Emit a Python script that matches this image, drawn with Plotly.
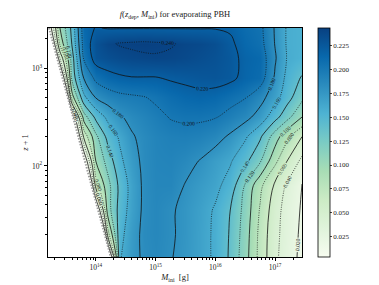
import math
import plotly.graph_objects as go

# ---- data ----
# grid coordinates (log10 of initial mass in g, log10 of z+1)
log_M = [13.2, 13.4, 13.6, 13.8, 14.0, 14.2, 14.4, 14.6, 14.8, 15.0,
         15.25, 15.5, 15.75, 16.0, 16.25, 16.5, 16.75, 17.0, 17.2, 17.45]
log_zp1 = [1.07, 1.3, 1.55, 1.8, 2.05, 2.3, 2.5, 2.7, 2.9, 3.1, 3.25, 3.41]

# f(z_dep, M_ini), rows from bottom (low z) to top (high z); values left of
# the evaporation edge are below zero and get masked
f_r0 = [-0.6, -0.5, -0.4, -0.3, -0.2, -0.052, 0.158, 0.173, 0.183, 0.186, 0.181, 0.175, 0.167, 0.157, 0.137, 0.108, 0.073, 0.044, 0.030, 0.015]
f_r1 = [-0.7, -0.6, -0.5, -0.4, -0.21, 0.070, 0.153, 0.172, 0.184, 0.187, 0.182, 0.176, 0.167, 0.157, 0.138, 0.110, 0.074, 0.045, 0.032, 0.016]
f_r2 = [-0.8, -0.6, -0.45, -0.3, -0.022, 0.110, 0.148, 0.168, 0.183, 0.187, 0.182, 0.176, 0.168, 0.158, 0.140, 0.113, 0.078, 0.048, 0.032, 0.018]
f_r3 = [-0.6, -0.45, -0.3, -0.12, 0.070, 0.113, 0.145, 0.167, 0.183, 0.188, 0.188, 0.179, 0.172, 0.165, 0.152, 0.118, 0.085, 0.056, 0.037, 0.019]
f_r4 = [-0.5, -0.35, -0.2, -0.009, 0.100, 0.128, 0.155, 0.172, 0.184, 0.189, 0.190, 0.186, 0.179, 0.170, 0.162, 0.145, 0.122, 0.085, 0.060, 0.035]
f_r5 = [-0.4, -0.25, -0.069, 0.065, 0.115, 0.146, 0.163, 0.178, 0.185, 0.190, 0.193, 0.194, 0.192, 0.187, 0.177, 0.163, 0.143, 0.110, 0.085, 0.060]
f_r6 = [-0.45, -0.3, -0.01, 0.110, 0.145, 0.165, 0.178, 0.185, 0.190, 0.195, 0.201, 0.203, 0.203, 0.201, 0.194, 0.186, 0.172, 0.147, 0.127, 0.100]
f_r7 = [-0.35, -0.155, 0.090, 0.155, 0.181, 0.190, 0.195, 0.197, 0.199, 0.203, 0.209, 0.213, 0.215, 0.213, 0.207, 0.201, 0.187, 0.168, 0.148, 0.125]
f_r8 = [-0.25, -0.033, 0.125, 0.181, 0.205, 0.213, 0.217, 0.219, 0.219, 0.219, 0.222, 0.224, 0.226, 0.227, 0.224, 0.215, 0.210, 0.177, 0.155, 0.138]
f_r9 = [-0.12, 0.040, 0.130, 0.202, 0.228, 0.232, 0.235, 0.237, 0.238, 0.239, 0.238, 0.236, 0.233, 0.230, 0.225, 0.216, 0.212, 0.182, 0.159, 0.154]
f_r10 = [-0.06, 0.085, 0.141, 0.208, 0.230, 0.238, 0.241, 0.242, 0.243, 0.242, 0.241, 0.238, 0.236, 0.232, 0.223, 0.213, 0.207, 0.179, 0.158, 0.155]
f_r11 = [-0.01, 0.100, 0.145, 0.212, 0.221, 0.219, 0.219, 0.219, 0.219, 0.219, 0.219, 0.219, 0.219, 0.219, 0.218, 0.210, 0.205, 0.178, 0.158, 0.155]
f_grid = [f_r0, f_r1, f_r2, f_r3, f_r4, f_r5, f_r6, f_r7, f_r8, f_r9, f_r10, f_r11]

# edge of the region where the PBH has already evaporated
edge_log_M = [13.217, 14.25]
edge_log_zp1 = [3.41, 1.07]

cbar_ticks = [0.025, 0.050, 0.075, 0.100, 0.125, 0.150, 0.175, 0.200, 0.225]
x_ticks = [1e14, 1e15, 1e16, 1e17]
x_ticktext = ["10<sup>14</sup>", "10<sup>15</sup>", "10<sup>16</sup>", "10<sup>17</sup>"]
y_ticks = [1e2, 1e3]
y_ticktext = ["10<sup>2</sup>", "10<sup>3</sup>"]

# ---- figure ----
M = [10 ** v for v in log_M]
zp1 = [10 ** v for v in log_zp1]
xr = [13.2, 17.45]
yr = [1.07, 3.41]

GnBu = [[0.0, "#f7fcf0"], [0.125, "#e0f3db"], [0.25, "#ccebc5"], [0.375, "#a8ddb5"],
        [0.5, "#7bccc4"], [0.625, "#4eb3d3"], [0.75, "#2b8cbe"], [0.875, "#0868ac"],
        [1.0, "#084081"]]
serif = "Liberation Serif, DejaVu Serif, serif"

fig = go.Figure()
fig.add_trace(go.Heatmap(
    x=M, y=zp1, z=f_grid, zsmooth="best", colorscale=GnBu, zmin=0.004, zmax=0.243,
    hoverinfo="skip",
    colorbar=dict(x=1.063, xanchor="left", xpad=0, ypad=0, y=0.5, yanchor="middle",
                  len=1.0, lenmode="fraction", thickness=12, outlinewidth=0.8,
                  outlinecolor="black", tickvals=cbar_ticks, tickformat=".3f",
                  ticks="outside", ticklen=2, tickwidth=0.6,
                  tickfont=dict(family=serif, size=7, color="#222")),
))
common = dict(x=M, y=zp1, z=f_grid, showscale=False, hoverinfo="skip")
fig.add_trace(go.Contour(
    **common,
    contours=dict(coloring="none", start=0.02, end=0.221, size=0.04, showlabels=True,
                  labelformat=".3f", labelfont=dict(family=serif, size=5.5, color="#111")),
    line=dict(color="#111", width=0.8, dash="solid", smoothing=1),
))
fig.add_trace(go.Contour(
    **common,
    contours=dict(coloring="none", start=0.04, end=0.241, size=0.04, showlabels=True,
                  labelformat=".3f", labelfont=dict(family=serif, size=5.5, color="#111")),
    line=dict(color="#111", width=0.7, dash="1px,1.3px", smoothing=1),
))
# mask of the evaporated region
bx = [10 ** v for v in edge_log_M]
by = [10 ** v for v in edge_log_zp1]
fig.add_trace(go.Scatter(
    x=[bx[0], bx[1], 10 ** (xr[0] - 0.3), 10 ** (xr[0] - 0.3), bx[0]],
    y=[by[0], by[1], 10 ** (yr[0] - 0.3), 10 ** (yr[1] + 0.3), by[0]],
    fill="toself", fillcolor="white", line=dict(width=0), mode="lines",
    hoverinfo="skip", showlegend=False))
fig.add_trace(go.Scatter(x=bx, y=by, mode="lines", hoverinfo="skip", showlegend=False,
                         line=dict(color="#9a9a9a", width=2, dash="1.5px,1.5px")))

minor_x = [k * 10 ** n for n in range(13, 18) for k in range(2, 10)
           if xr[0] <= n + math.log10(k) <= xr[1]]
minor_y = [k * 10 ** n for n in range(1, 4) for k in range(2, 10)
           if yr[0] <= n + math.log10(k) <= yr[1]]

axis_common = dict(showline=True, linecolor="black", linewidth=0.8, mirror=True,
                   showgrid=False, zeroline=False, ticks="outside", ticklen=3.5,
                   tickwidth=0.7, tickcolor="black",
                   tickfont=dict(family=serif, size=7.5, color="#222"))
fig.update_xaxes(type="log", range=xr, tickvals=x_ticks, ticktext=x_ticktext,
                 minor=dict(tickvals=minor_x, ticks="outside", ticklen=2, tickwidth=0.5,
                            tickcolor="black"),
                 title=dict(text="<i>M</i><sub>ini</sub>  [g]", standoff=2,
                            font=dict(family=serif, size=8.5, color="#222")),
                 **axis_common)
fig.update_yaxes(type="log", range=yr, tickvals=y_ticks, ticktext=y_ticktext,
                 minor=dict(tickvals=minor_y, ticks="outside", ticklen=2, tickwidth=0.5,
                            tickcolor="black"),
                 title=dict(text="<i>z</i> + 1", standoff=1,
                            font=dict(family=serif, size=8.5, color="#222")),
                 **axis_common)
# the page body adds an 8px offset at top/left, so the figure is 8px smaller
fig.update_layout(
    width=371, height=277,
    margin=dict(l=40, r=77, t=20, b=28, autoexpand=False),
    paper_bgcolor="white", plot_bgcolor="white",
    showlegend=False,
    title=dict(text="<i>f</i>(<i>z</i><sub>dep</sub>, <i>M</i><sub>ini</sub>) for evaporating PBH",
               x=0.5, xref="paper", xanchor="center", y=1 - 6 / 277, yref="container",
               yanchor="middle", font=dict(family=serif, size=8.5, color="#222")),
)
fig.write_html("out.html")
